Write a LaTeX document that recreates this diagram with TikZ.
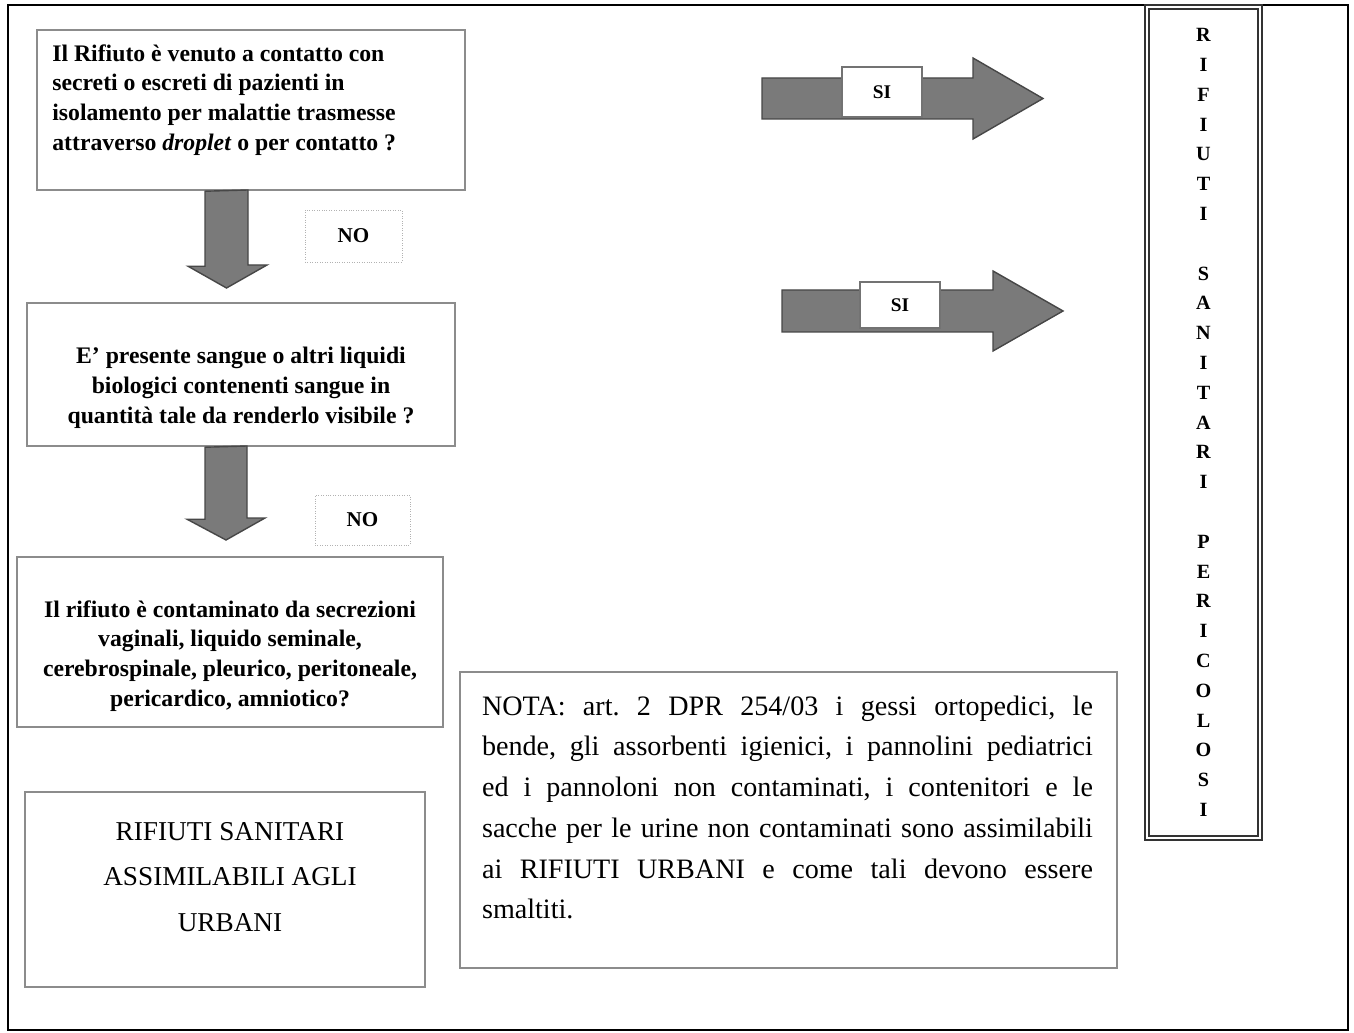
\documentclass[tikz,border=0pt]{standalone}
\usepackage{fontspec}
\setmainfont{Liberation Serif}
\usepackage{tikz}
\usetikzlibrary{positioning}
\frenchspacing
\tikzset{qbox/.style={draw=black!45,line width=1.4pt,fill=white,inner sep=0pt},qtxt/.style={align=center,inner sep=0pt,font=\fontsize{13.5}{17}\selectfont\bfseries},blockarr/.style={fill=black!52,draw=black!72,line width=0.8pt}}
\begin{document}
\begin{tikzpicture}[x=0.02cm,y=-0.02cm,nobox/.style={draw=black!30,densely dotted,fill=white,minimum width=1.94cm,minimum height=1.04cm,font=\fontsize{12}{14}\selectfont\bfseries},sibox/.style={draw=black!55,fill=white,line width=0.8pt,minimum width=1.6cm,minimum height=1cm,font=\fontsize{11}{13}\selectfont\bfseries}]
\useasboundingbox (0,0) rectangle (1354,1033);
\draw[line width=0.8pt] (8,5) rectangle (1348,1030);
\node[qbox,minimum width=8.56cm,minimum height=3.2cm] (q1) at (251,110) {};
\node[qtxt,anchor=west,align=left] (q1t) at (52,100) {Il Rifiuto è venuto a contatto con\\secreti o escreti di pazienti in\\isolamento per malattie trasmesse\\attraverso \textit{droplet} o per contatto ?};
\node[qbox,minimum width=8.56cm,minimum height=2.86cm] (q2) at (241,374.5) {};
\node[qtxt] (q2t) at (241,388) {E' presente sangue o altri liquidi\\biologici contenenti sangue in\\quantità tale da renderlo visibile ?};
\node[qbox,minimum width=8.52cm,minimum height=3.4cm] (q3) at (230,642) {};
\node[qtxt] (q3t) at (230,656) {Il rifiuto è contaminato da secrezioni\\vaginali, liquido seminale,\\cerebrospinale, pleurico, peritoneale,\\pericardico, amniotico?};
\node[qbox,minimum width=8cm,minimum height=3.9cm] (urb) at (225,889.5) {};
\node[align=center,inner sep=0pt,font=\fontsize{15.5}{25.8}\selectfont] (urbt) at (230,877) {RIFIUTI SANITARI\\ASSIMILABILI AGLI\\URBANI};
\node[qbox,minimum width=13.14cm,minimum height=5.92cm] (nota) at (788.5,820) {};
\node[text width=12.22cm,align=justify,inner sep=0pt,font=\fontsize{16}{23.2}\selectfont] (notat) at (787.5,807.5) {NOTA: art. 2 DPR 254/03 i gessi ortopedici, le\linebreak bende, gli assorbenti igienici, i pannolini pediatrici\linebreak ed i pannoloni non contaminati, i contenitori e le\linebreak sacche per le urine non contaminati sono assimilabili\linebreak ai RIFIUTI URBANI e come tali devono essere\linebreak smaltiti.};
\node[draw=black!80,double=white,double distance=1.5pt,line width=0.9pt,minimum width=2.26cm,minimum height=16.62cm,align=center,font=\fontsize{11.5}{16.96}\selectfont\bfseries] (rsp) at (1203.5,422.5) {R\\I\\F\\I\\U\\T\\I\\[16.96pt]S\\A\\N\\I\\T\\A\\R\\I\\[16.96pt]P\\E\\R\\I\\C\\O\\L\\O\\S\\I};
\coordinate (t1) at (226.5,288);
\draw[blockarr] (q1.south -| t1) ++(-21.5,0) -- ++(0,75) -- ++(-17,0) -- (t1) -- ++(40.5,-23) -- ++(-19,0) -- ++(0,-75) -- cycle;
\coordinate (t2) at (226,540);
\draw[blockarr] (q2.south -| t2) ++(-21,0) -- ++(0,72) -- ++(-18,0) -- (t2) -- ++(39,-22) -- ++(-18,0) -- ++(0,-72) -- cycle;
\node[nobox] (no1) at (353.5,236) {NO};
\node[nobox,minimum width=1.9cm,minimum height=1cm] (no2) at (362.5,520) {NO};
\coordinate (s1) at (762,98.5);
\coordinate (e1) at (1043,98.5);
\draw[blockarr] (s1) ++(0,-20.5) -- ++(211,0) -- ++(0,-20) -- (e1) -- ++(-70,40.5) -- ++(0,-20) -- ++(-211,0) -- cycle;
\node[sibox] (si1) at (882,92) {SI};
\coordinate (s2) at (782,311);
\coordinate (e2) at (1063,311);
\draw[blockarr] (s2) ++(0,-21) -- ++(211,0) -- ++(0,-19) -- (e2) -- ++(-70,40) -- ++(0,-19) -- ++(-211,0) -- cycle;
\node[sibox,minimum height=0.92cm] (si2) at (900,305) {SI};
\end{tikzpicture}
\end{document}
